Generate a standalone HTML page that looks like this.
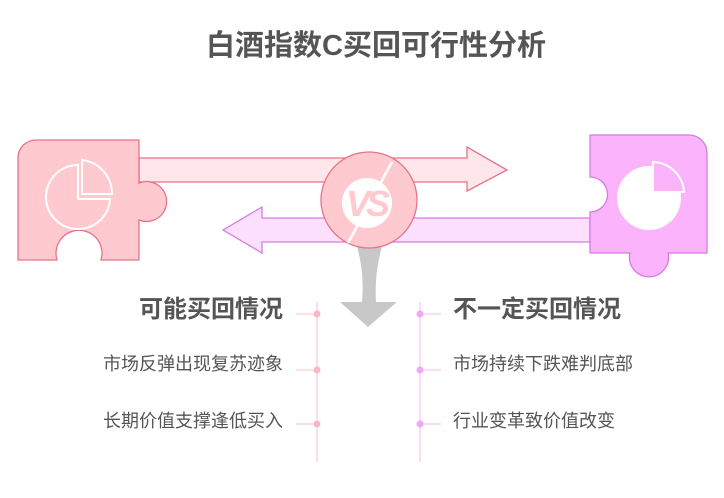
<!DOCTYPE html>
<html><head><meta charset="utf-8"><style>
body{margin:0;background:#fff;}
svg text{font-family:"Liberation Sans","Noto Sans CJK SC",sans-serif;}
</style></head><body>
<svg width="724" height="493" viewBox="0 0 724 493" xmlns="http://www.w3.org/2000/svg">
<text x="376" y="55" text-anchor="middle" font-size="29" font-weight="bold" fill="#555">白酒指数C买回可行性分析</text>

<!-- top arrow (pink) -->
<path d="M139 158 H467 V147 L507 170 L467 191 V182 H139 Z" fill="#ffe6ea" stroke="#e8728a" stroke-width="1.3"/>
<!-- bottom arrow (purple) -->
<path d="M590 218 H262 V207 L223 230 L262 253 V242 H590 Z" fill="#fde0fd" stroke="#d67be0" stroke-width="1.3"/>

<!-- left puzzle -->
<path d="M36 140 H139 V183 A20 20 0 1 1 139 220 V260 H101 A23 23 0 1 0 57 260 H18 V158 A18 18 0 0 1 36 140 Z" fill="#ffc9d0" stroke="#e8728a" stroke-width="1.3"/>
<g fill="none" stroke="#fff" stroke-width="2">
<path d="M78 165 A32 32 0 1 0 110 199 L78 199 Z"/>
<path d="M82 160 V194 H112 A34 34 0 0 0 82 160 Z"/>
</g>

<!-- right puzzle -->
<path d="M590 135 H689 A18 18 0 0 1 707 153 V253 H668 A19.5 19.5 0 1 1 630 253 H590 V212 A17.5 17.5 0 1 0 590 177 Z" fill="#fbb3fb" stroke="#d67be0" stroke-width="1.3"/>
<circle cx="649" cy="198" r="32" fill="#fff"/>
<path d="M653 162 V192 H684 A32 32 0 0 0 653 162 Z" fill="#fbb3fb" stroke="#fff" stroke-width="2"/>

<!-- gray down arrow -->
<path d="M355 240 Q365 270 362 302 H340 L368 327 L397 302 H376 Q374 270 384 240 Z" fill="#c8c8c8"/>

<!-- VS circle -->
<circle cx="369" cy="200" r="48" fill="#ffc9d0" stroke="#e8728a" stroke-width="1.3"/>
<circle cx="367" cy="203" r="25" fill="#fff"/>
<path d="M392 162 L348 243" stroke="#fff" stroke-width="2.5"/>
<text x="366" y="216" text-anchor="middle" font-size="36" font-weight="bold" font-style="italic" fill="#ffc9d0" letter-spacing="-4">VS</text>

<!-- timelines -->
<g stroke="#fbd3dc" stroke-width="1.5">
<line x1="317" y1="302" x2="317" y2="462"/>
<line x1="296" y1="314" x2="317" y2="314"/>
<line x1="296" y1="370" x2="317" y2="370"/>
<line x1="296" y1="424" x2="317" y2="424"/>
</g>
<g fill="#f9b7c6"><circle cx="317" cy="314" r="3.5"/><circle cx="317" cy="370" r="3.5"/><circle cx="317" cy="424" r="3.5"/></g>
<g stroke="#f6d0f6" stroke-width="1.5">
<line x1="420" y1="302" x2="420" y2="462"/>
<line x1="420" y1="314" x2="441" y2="314"/>
<line x1="420" y1="370" x2="441" y2="370"/>
<line x1="420" y1="424" x2="441" y2="424"/>
</g>
<g fill="#f0a8f0"><circle cx="420" cy="314" r="3.5"/><circle cx="420" cy="370" r="3.5"/><circle cx="420" cy="424" r="3.5"/></g>

<text x="283" y="317" text-anchor="end" font-size="24" font-weight="bold" fill="#555">可能买回情况</text>
<text x="283" y="370" text-anchor="end" font-size="18" fill="#555">市场反弹出现复苏迹象</text>
<text x="283" y="427" text-anchor="end" font-size="18" fill="#555">长期价值支撑逢低买入</text>
<text x="453" y="317" font-size="24" font-weight="bold" fill="#555">不一定买回情况</text>
<text x="453" y="370" font-size="18" fill="#555">市场持续下跌难判底部</text>
<text x="453" y="427" font-size="18" fill="#555">行业变革致价值改变</text>
</svg>
</body></html>
